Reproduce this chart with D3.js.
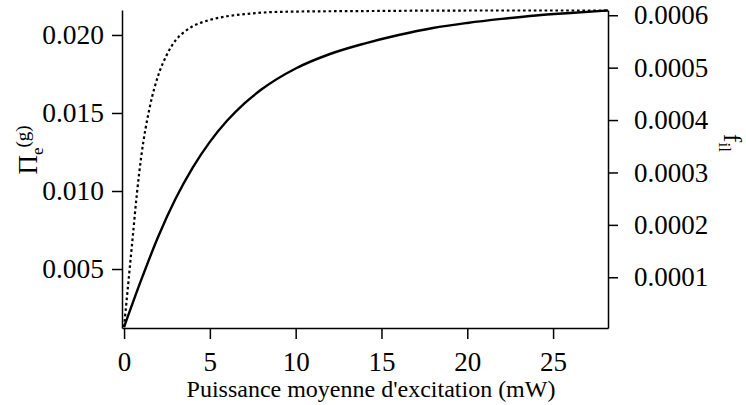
<!DOCTYPE html>
<html>
<head>
<meta charset="utf-8">
<script src="https://cdn.jsdelivr.net/npm/d3@7"></script>
<style>
  html, body { margin: 0; padding: 0; background: #fff; }
  svg { display: block; }
  svg text { font-family: "Liberation Serif", Tinos, "Times New Roman", Times, serif; fill: #000; }
</style>
</head>
<body>
<svg id="chart" width="746" height="405"></svg>
<script>
// Excitation power (mW) and the two responses
const powerSolid = [0, 1, 2, 3, 4, 5, 6, 7, 8, 10, 12, 14, 16, 18, 20, 22, 24, 26, 28.2];
const piExcited  = [0.00128, 0.00430, 0.00710, 0.00950, 0.01150, 0.01315, 0.01450, 0.01560, 0.01650,
                    0.01785, 0.01878, 0.01945, 0.02000, 0.02045, 0.02077, 0.02103, 0.02125, 0.02141, 0.02157];

const powerDotted = [0, 0.25, 0.5, 0.75, 1, 1.5, 2, 2.5, 3, 3.5, 4, 5, 6, 7, 8, 10, 14, 20, 28.2];
const fIl         = [0.000005, 0.00009, 0.000175, 0.00026, 0.00033, 0.000425, 0.000486, 0.000525, 0.000552,
                     0.000568, 0.000579, 0.000591, 0.000598, 0.000602, 0.000605, 0.000607, 0.000608, 0.000609, 0.000609];

const xTicks     = [0, 5, 10, 15, 20, 25];
const leftTicks  = [0.005, 0.010, 0.015, 0.020];
const rightTicks = [0.0001, 0.0002, 0.0003, 0.0004, 0.0005, 0.0006];

const serif = '"Liberation Serif", Tinos, "Times New Roman", Times, serif';

const svg = d3.select("#chart");
const plot = { left: 122, right: 608, top: 10, bottom: 328 };

const x = d3.scaleLinear().domain([-0.12, 28.2]).range([plot.left, plot.right]);
const yLeft = d3.scaleLinear().domain([0.00122, 0.0216]).range([plot.bottom, plot.top]);
const yRight = d3.scaleLinear().domain([0.0000032, 0.000610]).range([plot.bottom, plot.top]);

function styleAxis(g, fontSize) {
  g.attr("font-family", serif).attr("font-size", fontSize);
  g.select(".domain").attr("stroke", "#000").attr("stroke-width", 1.5);
  g.selectAll(".tick line").attr("stroke", "#000").attr("stroke-width", 1.5);
  g.selectAll(".tick text").attr("font-family", serif).style("font-size", fontSize + "px");
}

// Bottom axis
svg.append("g")
  .attr("transform", `translate(0,${plot.bottom})`)
  .call(d3.axisBottom(x).tickValues(xTicks).tickFormat(d3.format("d"))
        .tickSize(11).tickSizeOuter(0).tickPadding(13))
  .call(g => styleAxis(g, 27));

// Left axis
svg.append("g")
  .attr("transform", `translate(${plot.left},0)`)
  .call(d3.axisLeft(yLeft).tickValues(leftTicks).tickFormat(d3.format(".3f"))
        .tickSize(10).tickSizeOuter(0).tickPadding(8))
  .call(g => styleAxis(g, 27.5));

// Right axis
svg.append("g")
  .attr("transform", `translate(${plot.right},0)`)
  .call(d3.axisRight(yRight).tickValues(rightTicks).tickFormat(d3.format(".4f"))
        .tickSize(10).tickSizeOuter(0).tickPadding(16))
  .call(g => styleAxis(g, 27));

// Curves
const lineLeft = d3.line()
  .x((d, i) => x(powerSolid[i]))
  .y(d => yLeft(d))
  .curve(d3.curveMonotoneX);

const lineRight = d3.line()
  .x((d, i) => x(powerDotted[i]))
  .y(d => yRight(d))
  .curve(d3.curveMonotoneX);

svg.append("path")
  .datum(fIl)
  .attr("d", lineRight)
  .attr("fill", "none")
  .attr("stroke", "#000")
  .attr("stroke-width", 2.2)
  .attr("stroke-dasharray", "2.6,2.8");

svg.append("path")
  .datum(piExcited)
  .attr("d", lineLeft)
  .attr("fill", "none")
  .attr("stroke", "#000")
  .attr("stroke-width", 2.4);

// Axis titles
svg.append("text")
  .attr("x", (plot.left + plot.right) / 2 + 6)
  .attr("y", 397)
  .attr("text-anchor", "middle")
  .attr("font-family", serif)
  .style("font-size", "24px")
  .text("Puissance moyenne d'excitation (mW)");

const leftTitle = svg.append("text")
  .attr("transform", "translate(37,150) rotate(-90)")
  .attr("text-anchor", "middle")
  .attr("font-family", serif)
  .style("font-size", "27px");
leftTitle.append("tspan").text("Π");
leftTitle.append("tspan").attr("dy", 6).style("font-size", "17px").text("e");
leftTitle.append("tspan").attr("dy", -14).style("font-size", "19px").text("(g)");

const rightTitle = svg.append("text")
  .attr("transform", "translate(724,143) rotate(90)")
  .attr("text-anchor", "middle")
  .attr("font-family", serif)
  .style("font-size", "25px");
rightTitle.append("tspan").text("f");
rightTitle.append("tspan").attr("dy", 5).style("font-size", "17px").text("il");
</script>
</body>
</html>
